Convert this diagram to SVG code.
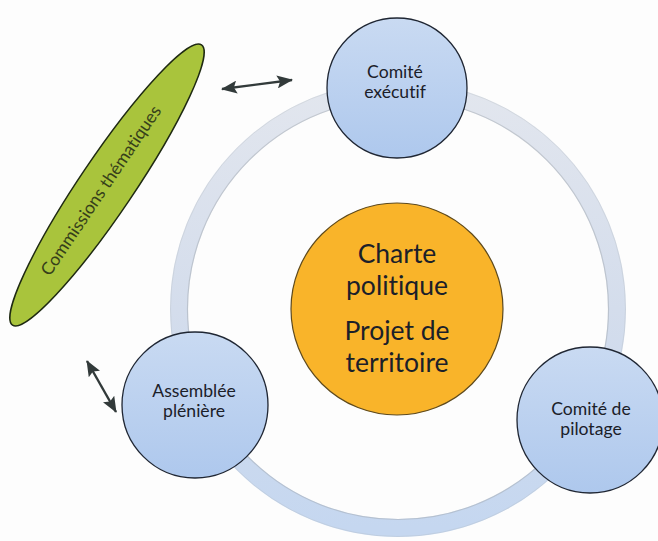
<svg xmlns="http://www.w3.org/2000/svg" width="658" height="541" viewBox="0 0 658 541">
  <defs>
    <style>
      text { font-variant-ligatures: none; }
      .label { font-family: Lato, "Liberation Sans", sans-serif; fill: #1b2029; text-anchor: middle; }
      .small { font-size: 17.6px; }
      .big { font-size: 26.5px; }
      .bubble { fill: url(#bubbleFill); stroke: #1f2633; stroke-width: 1.3; }
      .arrow { stroke: #323a3a; stroke-width: 2.4; fill: none; marker-start: url(#head); marker-end: url(#head); }
    </style>
    <linearGradient id="bubbleFill" x1="0" y1="0" x2="0" y2="1">
      <stop offset="0" stop-color="#c9daf2"/>
      <stop offset="1" stop-color="#aec8ed"/>
    </linearGradient>
    <linearGradient id="ringFill" gradientUnits="userSpaceOnUse" x1="0" y1="90" x2="0" y2="528">
      <stop offset="0" stop-color="#e2e6ee"/>
      <stop offset="0.5" stop-color="#d4ddec"/>
      <stop offset="1" stop-color="#c5d7f0"/>
    </linearGradient>
    <marker id="head" viewBox="0 0 16 13" refX="15" refY="6.5" markerWidth="16" markerHeight="13" markerUnits="userSpaceOnUse" orient="auto-start-reverse">
      <path d="M0,0 L16,6.5 L0,13 L3,6.5 z" fill="#323a3a"/>
    </marker>
  </defs>

  <rect width="658" height="541" fill="#fdfdfd"/>

  <!-- cycle ring linking the three bodies -->
  <g id="cycle">
    <circle cx="398" cy="309" r="219" fill="none" stroke="url(#ringFill)" stroke-width="18"/>
    <circle cx="398" cy="309" r="210.5" fill="none" stroke="#9ea3aa" stroke-width="1.2" opacity="0.45"/>
    <circle cx="398" cy="309" r="227.5" fill="none" stroke="#b4b8be" stroke-width="1" opacity="0.3"/>
  </g>

  <g id="commissions">
    <ellipse cx="107" cy="185" rx="169" ry="27" transform="rotate(-56 107 185)" fill="#a9c43c" stroke="#1f2a12" stroke-width="1.5"/>
    <text transform="translate(107 185) rotate(-56)" x="-8" y="4" font-family="Lato, 'Liberation Sans', sans-serif" font-size="17.5" fill="#36401a" text-anchor="middle">Commissions thématiques</text>
  </g>

  <g id="comite-executif">
    <circle class="bubble" cx="397" cy="88" r="70"/>
    <text class="label small" x="395" y="78">Comité</text>
    <text class="label small" x="395" y="98">exécutif</text>
  </g>

  <g id="assemblee-pleniere">
    <circle class="bubble" cx="195" cy="405" r="73"/>
    <text class="label small" x="194" y="397">Assemblée</text>
    <text class="label small" x="194" y="417">plénière</text>
  </g>

  <g id="comite-pilotage">
    <circle class="bubble" cx="590" cy="420" r="73"/>
    <text class="label small" x="591" y="415">Comité de</text>
    <text class="label small" x="591" y="435">pilotage</text>
  </g>

  <g id="charte">
    <circle cx="397" cy="309" r="106" fill="#f9b42a" stroke="#5e4a1e" stroke-width="1.2"/>
    <text class="label big" x="397" y="263">Charte</text>
    <text class="label big" x="397" y="295">politique</text>
    <text class="label big" x="397" y="340">Projet de</text>
    <text class="label big" x="397" y="372">territoire</text>
  </g>

  <g id="connectors">
    <line class="arrow" x1="222" y1="89" x2="292" y2="80"/>
    <line class="arrow" x1="87" y1="361" x2="116" y2="412"/>
  </g>
</svg>
